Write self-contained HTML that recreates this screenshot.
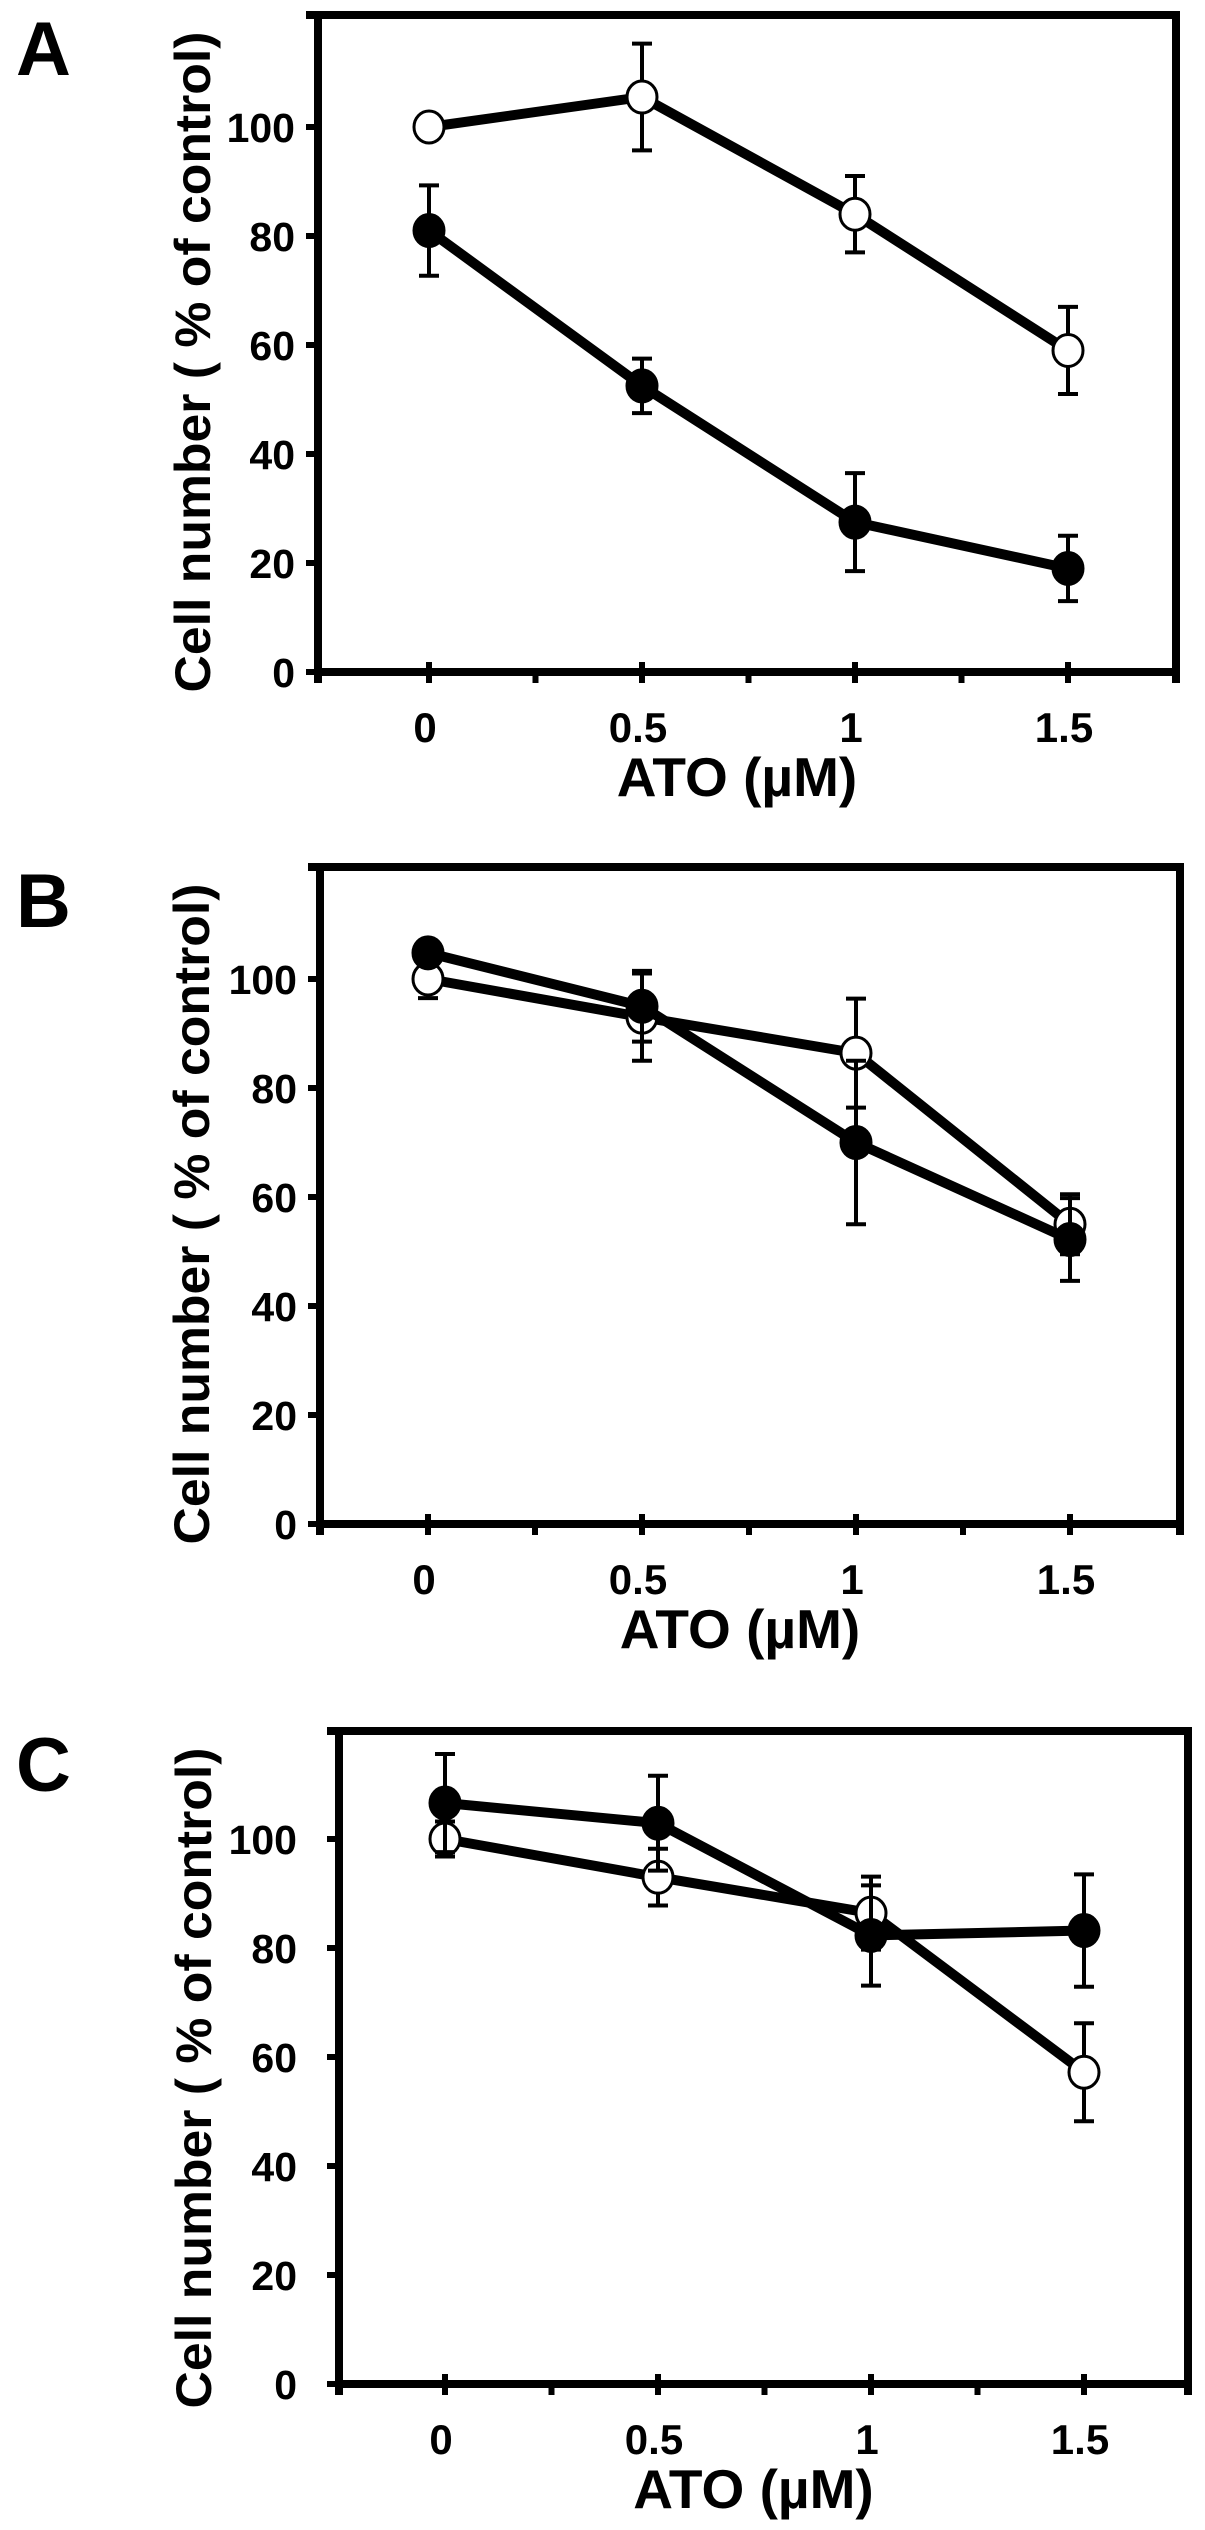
<!DOCTYPE html>
<html><head><meta charset="utf-8"><style>
html,body{margin:0;padding:0;background:#fff;}
svg{display:block;}
text{font-family:"Liberation Sans",Arial,sans-serif;font-weight:bold;fill:#000;}
</style></head><body>
<svg id="fig" width="1205" height="2530" viewBox="0 0 1205 2530" xmlns="http://www.w3.org/2000/svg"></svg>
<script>
const categories = [0, 0.5, 1, 1.5];
const xTickLabels = ["0", "0.5", "1", "1.5"];
const yTickValues = [0, 20, 40, 60, 80, 100];
const panelLabels = ["A", "B", "C"];
// Panel A
const aOpen = [100, 105.5, 84, 59];
const aOpenErr = [1.5, 9.8, 7, 8];
const aFilled = [81, 52.5, 27.5, 19];
const aFilledErr = [8.3, 5, 9, 6];
// Panel B
const bOpen = [100, 93, 86.4, 55];
const bOpenErr = [3.5, 8, 10, 5.5];
const bFilled = [104.8, 95, 70, 52.2];
const bFilledErr = [1.5, 6.5, 15, 7.6];
// Panel C
const cOpen = [100, 93, 86.4, 57.2];
const cOpenErr = [3.2, 5.2, 6.7, 9];
const cFilled = [106.6, 102.9, 82.3, 83.2];
const cFilledErr = [9, 8.7, 9.2, 10.3];

const panels = [
  {label:"A", left:318, right:1176, top:15, axis:672, x0:429, xs:426, ylr:295, tx:192, open:aOpen, openErr:aOpenErr, filled:aFilled, filledErr:aFilledErr},
  {label:"B", left:320, right:1180, top:867, axis:1524, x0:428, xs:428, ylr:297, tx:191, open:bOpen, openErr:bOpenErr, filled:bFilled, filledErr:bFilledErr},
  {label:"C", left:339, right:1188, top:1731, axis:2384, x0:445, xs:426, ylr:297, tx:193, open:cOpen, openErr:cOpenErr, filled:cFilled, filledErr:cFilledErr}
];
const NS = "http://www.w3.org/2000/svg";
const svg = document.getElementById("fig");
function mk(tag, attrs, parent){
  const e = document.createElementNS(NS, tag);
  for (const k in attrs) e.setAttribute(k, attrs[k]);
  parent.appendChild(e);
  return e;
}
panels.forEach((p, pi) => {
  const g = mk("g", {}, svg);
  
  
  const yScale = 5.45;
  const X = v => p.x0 + v * p.xs;
  const Y = v => p.axis - v * yScale;
  // panel letter
  const pl = mk("text", {x: 16, y: p.top + 60, "font-size": 76}, g);
  pl.textContent = panelLabels[pi];
  
  
  // frame
  const fr = mk("path", {d:`M${p.left-12},${p.top} H${p.right} V${p.axis+11} M${p.right},${p.axis} H${p.left} M${p.left},${p.top} V${p.axis+11}`, stroke:"#000", "stroke-width":8, fill:"none"}, g);
  
  
  // y ticks and labels
  yTickValues.forEach(v => {
    const t = mk("line", {x1:p.left-12, x2:p.left, y1:Y(v), y2:Y(v), stroke:"#000", "stroke-width":6}, g);
    
    
    const tl = mk("text", {x:p.ylr, y:Y(v)+15, "font-size":41, "text-anchor":"end"}, g);
    tl.textContent = String(v);
    
    
  });
  // x ticks
  categories.forEach((c, i) => {
    const t = mk("line", {x1:X(c), x2:X(c), y1:p.axis-10, y2:p.axis+11, stroke:"#000", "stroke-width":6}, g);
    
    
    const tl = mk("text", {x:X(c)-4, y:p.axis+70, "font-size":42, "text-anchor":"middle"}, g);
    tl.textContent = xTickLabels[i];
    
    
  });
  [0.25, 0.75, 1.25].forEach(c => {
    const t = mk("line", {x1:X(c), x2:X(c), y1:p.axis, y2:p.axis+11, stroke:"#000", "stroke-width":6}, g);
    
    
  });
  const xt = mk("text", {x:(p.left+p.right)/2-10, y:p.axis+124, "font-size":55, "text-anchor":"middle"}, g);
  xt.textContent = "ATO (µM)";
  
  
  const yt = mk("text", {x:0, y:0, "font-size":50, "text-anchor":"middle", textLength:661, lengthAdjust:"spacingAndGlyphs", transform:`translate(${p.tx+18},${p.top+347}) rotate(-90)`}, g);
  yt.textContent = "Cell number ( % of control)";
  
  
  // series
  const series = [
    {name:"open", vals:p.open, errs:p.openErr, fill:"#fff"},
    {name:"filled", vals:p.filled, errs:p.filledErr, fill:"#000"}
  ];
  series.forEach(s => {
    const sg = mk("g", {}, g);
    
    
    categories.forEach((c, i) => {
      const x = X(c), y1 = Y(s.vals[i] + s.errs[i]), y2 = Y(s.vals[i] - s.errs[i]);
      const e = mk("path", {d:`M${x},${y1} V${y2} M${x-10},${y1} H${x+10} M${x-10},${y2} H${x+10}`, stroke:"#000", "stroke-width":4, fill:"none"}, sg);
      
      
    });
    const pts = categories.map((c, i) => X(c) + "," + Y(s.vals[i])).join(" ");
    const ln = mk("polyline", {points:pts, stroke:"#000", "stroke-width":10, fill:"none", "stroke-linejoin":"round"}, sg);
    
    
    categories.forEach((c, i) => {
      const m = mk("ellipse", {cx:X(c), cy:Y(s.vals[i]), rx:15, ry:16, fill:s.fill, stroke:"#000", "stroke-width":3}, sg);
      
      
    });
  });
});
</script>
</body></html>
